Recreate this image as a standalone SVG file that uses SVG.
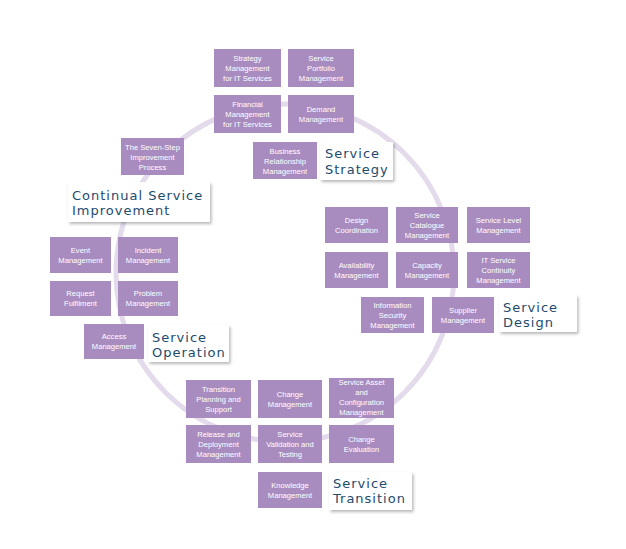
<svg xmlns="http://www.w3.org/2000/svg" width="626" height="549" viewBox="0 0 626 549">
<defs>
<filter id="sh" x="-20%" y="-20%" width="140%" height="150%">
<feDropShadow dx="1.5" dy="2" stdDeviation="1.6" flood-color="#000" flood-opacity="0.28"/>
</filter>
<style>
.b{fill:#a98cbf}
.t{fill:#ffffff;font-family:"Liberation Sans",Arial,sans-serif;font-size:7.6px;text-anchor:middle}
.lb{fill:#ffffff;filter:url(#sh)}
.lt{fill:#1d4b6c;font-family:"DejaVu Sans",Verdana,sans-serif;font-size:13px;letter-spacing:1px}
.ring{fill:none;stroke:#e3dbec;stroke-width:5}
</style>
</defs>
<rect width="626" height="549" fill="#ffffff"/>
<g id="connectors">
<circle class="ring" cx="285" cy="273" r="169"/>
</g>

<g id="strategy-management"><rect class="b" x="214" y="49" width="67" height="38"/><text class="t"><tspan x="247.5" y="61">Strategy</tspan><tspan x="247.5" y="71">Management</tspan><tspan x="247.5" y="81">for IT Services</tspan></text></g>
<g id="service-portfolio"><rect class="b" x="288" y="49" width="66" height="38"/><text class="t"><tspan x="321" y="61">Service</tspan><tspan x="321" y="71">Portfolio</tspan><tspan x="321" y="81">Management</tspan></text></g>
<g id="financial-management"><rect class="b" x="214" y="95" width="67" height="38"/><text class="t"><tspan x="247.5" y="107">Financial</tspan><tspan x="247.5" y="117">Management</tspan><tspan x="247.5" y="127">for IT Services</tspan></text></g>
<g id="demand-management"><rect class="b" x="288" y="95" width="66" height="38"/><text class="t"><tspan x="321" y="112">Demand</tspan><tspan x="321" y="122">Management</tspan></text></g>
<g id="business-relationship"><rect class="b" x="253" y="142" width="64" height="37"/><text class="t"><tspan x="285" y="154">Business</tspan><tspan x="285" y="164">Relationship</tspan><tspan x="285" y="174">Management</tspan></text></g>
<g id="label-strategy"><rect class="lb" x="320" y="142" width="73" height="38"/><text class="lt"><tspan x="325" y="158">Service</tspan><tspan x="325" y="174">Strategy</tspan></text></g>

<g id="seven-step"><rect class="b" x="121" y="138" width="63" height="37"/><text class="t"><tspan x="152.5" y="150">The Seven-Step</tspan><tspan x="152.5" y="160">Improvement</tspan><tspan x="152.5" y="170">Process</tspan></text></g>
<g id="label-csi"><rect class="lb" x="68" y="182" width="142" height="40"/><text class="lt"><tspan x="72" y="200">Continual Service</tspan><tspan x="72" y="215">Improvement</tspan></text></g>

<g id="event-management"><rect class="b" x="50" y="237" width="61" height="36"/><text class="t"><tspan x="80.5" y="253">Event</tspan><tspan x="80.5" y="263">Management</tspan></text></g>
<g id="incident-management"><rect class="b" x="118" y="237" width="60" height="36"/><text class="t"><tspan x="148" y="253">Incident</tspan><tspan x="148" y="263">Management</tspan></text></g>
<g id="request-fulfilment"><rect class="b" x="50" y="281" width="61" height="35"/><text class="t"><tspan x="80.5" y="296">Request</tspan><tspan x="80.5" y="306">Fulfilment</tspan></text></g>
<g id="problem-management"><rect class="b" x="118" y="281" width="60" height="35"/><text class="t"><tspan x="148" y="296">Problem</tspan><tspan x="148" y="306">Management</tspan></text></g>
<g id="access-management"><rect class="b" x="84" y="324" width="60" height="35"/><text class="t"><tspan x="114" y="339">Access</tspan><tspan x="114" y="349">Management</tspan></text></g>
<g id="label-operation"><rect class="lb" x="148" y="325" width="81" height="37"/><text class="lt"><tspan x="152" y="342">Service</tspan><tspan x="152" y="357">Operation</tspan></text></g>

<g id="design-coordination"><rect class="b" x="325" y="207" width="63" height="36"/><text class="t"><tspan x="356.5" y="223">Design</tspan><tspan x="356.5" y="233">Coordination</tspan></text></g>
<g id="service-catalogue"><rect class="b" x="396" y="207" width="62" height="36"/><text class="t"><tspan x="427" y="218">Service</tspan><tspan x="427" y="228">Catalogue</tspan><tspan x="427" y="238">Management</tspan></text></g>
<g id="service-level"><rect class="b" x="467" y="207" width="63" height="36"/><text class="t"><tspan x="498.5" y="223">Service Level</tspan><tspan x="498.5" y="233">Management</tspan></text></g>
<g id="availability-management"><rect class="b" x="325" y="252" width="63" height="36"/><text class="t"><tspan x="356.5" y="268">Availability</tspan><tspan x="356.5" y="278">Management</tspan></text></g>
<g id="capacity-management"><rect class="b" x="396" y="252" width="62" height="36"/><text class="t"><tspan x="427" y="268">Capacity</tspan><tspan x="427" y="278">Management</tspan></text></g>
<g id="it-service-continuity"><rect class="b" x="467" y="252" width="63" height="36"/><text class="t"><tspan x="498.5" y="263">IT Service</tspan><tspan x="498.5" y="273">Continuity</tspan><tspan x="498.5" y="283">Management</tspan></text></g>
<g id="information-security"><rect class="b" x="361" y="297" width="63" height="36"/><text class="t"><tspan x="392.5" y="308">Information</tspan><tspan x="392.5" y="318">Security</tspan><tspan x="392.5" y="328">Management</tspan></text></g>
<g id="supplier-management"><rect class="b" x="432" y="297" width="62" height="36"/><text class="t"><tspan x="463" y="313">Supplier</tspan><tspan x="463" y="323">Management</tspan></text></g>
<g id="label-design"><rect class="lb" x="499" y="295" width="78" height="37"/><text class="lt"><tspan x="503" y="312">Service</tspan><tspan x="503" y="327">Design</tspan></text></g>

<g id="transition-planning"><rect class="b" x="186" y="380" width="65" height="38"/><text class="t"><tspan x="218.5" y="392">Transition</tspan><tspan x="218.5" y="402">Planning and</tspan><tspan x="218.5" y="412">Support</tspan></text></g>
<g id="change-management"><rect class="b" x="258" y="380" width="64" height="38"/><text class="t"><tspan x="290" y="397">Change</tspan><tspan x="290" y="407">Management</tspan></text></g>
<g id="service-asset"><rect class="b" x="329" y="378" width="65" height="40"/><text class="t"><tspan x="361.5" y="385">Service Asset</tspan><tspan x="361.5" y="395">and</tspan><tspan x="361.5" y="405">Configuration</tspan><tspan x="361.5" y="415">Management</tspan></text></g>
<g id="release-deployment"><rect class="b" x="186" y="425" width="65" height="38"/><text class="t"><tspan x="218.5" y="437">Release and</tspan><tspan x="218.5" y="447">Deployment</tspan><tspan x="218.5" y="457">Management</tspan></text></g>
<g id="service-validation"><rect class="b" x="258" y="425" width="64" height="38"/><text class="t"><tspan x="290" y="437">Service</tspan><tspan x="290" y="447">Validation and</tspan><tspan x="290" y="457">Testing</tspan></text></g>
<g id="change-evaluation"><rect class="b" x="329" y="425" width="65" height="38"/><text class="t"><tspan x="361.5" y="442">Change</tspan><tspan x="361.5" y="452">Evaluation</tspan></text></g>
<g id="knowledge-management"><rect class="b" x="258" y="472" width="64" height="36"/><text class="t"><tspan x="290" y="488">Knowledge</tspan><tspan x="290" y="498">Management</tspan></text></g>
<g id="label-transition"><rect class="lb" x="329" y="472" width="83" height="38"/><text class="lt"><tspan x="333" y="488">Service</tspan><tspan x="333" y="503">Transition</tspan></text></g>
</svg>
